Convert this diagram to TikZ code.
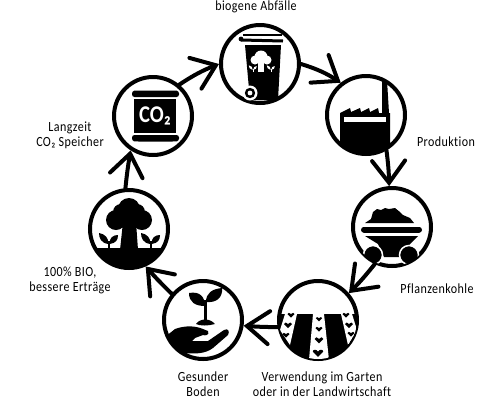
\documentclass[tikz,border=0pt]{standalone}
\usepackage{fontspec}
\setmainfont{Carlito}[LetterSpace=3,Ligatures=NoCommon,FakeStretch=0.86]
\usetikzlibrary{arrows.meta}

\newcommand{\sproutmark}[4]{% x, y, scale, colour
  \begin{scope}[shift={(#1,#2)},scale=#3]
    \draw[#4, line width=1.4pt*#3] (0,0) -- (0,-8);
    \fill[#4] (-0.8,-5) .. controls (-8,-6) and (-10,-11) .. (-10,-16) .. controls (-4,-15) and (0,-11) .. cycle;
    \fill[#4] (0.8,-5) .. controls (7,-6) and (9,-9) .. (9,-14) .. controls (4,-14) and (0,-11) .. cycle;
  \end{scope}}
\newcommand{\seedmark}[3]{% x, y, scale
  \fill[black, shift={(#1,#2)}, scale=#3] (0,3) -- (-4,-1) .. controls (-4,-3) and (-1,-3) .. (0,-1) .. controls (1,-3) and (4,-3) .. (4,-1) -- cycle;}

\begin{document}
\begin{tikzpicture}[x=1pt,y=-1pt,
  station/.style={draw, circle, line width=4pt, minimum size=78pt, inner sep=0pt},
  tag/.style={align=center, font=\fontsize{14}{15}\selectfont},
  flow/.style={-{Straight Barb[length=22pt,width=33pt,line cap=round]}, line width=4pt, line cap=round}
]
\useasboundingbox (0,0) rectangle (500,400);

\node[station] (bin) at (260,64) {};
\node[station] (factory) at (366,115) {};
\node[station] (cart) at (392,227) {};
\node[station] (field) at (318,320) {};
\node[station] (hand) at (203,320) {};
\node[station] (tree) at (129,229) {};
\node[station] (store) at (153,116) {};

\node[tag] (lblbin) at (256,7) {biogene Abfälle};
\node[tag] (lblfactory) at (446,142) {Produktion};
\node[tag] (lblcart) at (437,289) {Pflanzenkohle};
\node[tag] (lblfield) at (322,384) {Verwendung im Garten\\oder in der Landwirtschaft};
\node[tag] (lblhand) at (203,384) {Gesunder\\Boden};
\node[tag] (lbltree) at (70,280) {100\% BIO,\\bessere Erträge};
\node[tag] (lblstore) at (70,135) {Langzeit\\CO₂ Speicher};

\draw[flow] (store.50) to[bend left=6] (bin.180);
\draw[flow] (bin.0) to[bend left=8] (factory.128);
\draw[flow] (factory.-60) to[bend left=3] (cart.94);
\draw[flow] (cart.-115) to[bend left=3] (field.41);
\draw[flow] (field.190) to[bend left=2] (hand.-8);
\draw[flow] (hand.140) to[bend left=2] (tree.-66);
\draw[flow] (tree.95) to[bend left=2] (store.-123);

% waste bin
\begin{scope}
  \clip (260,64) circle (39);
  \fill (245,45) -- (281,45) -- (278,100) -- (250,100) -- cycle;
  \draw[line width=2.4pt] (243,35) -- (282,35);
  \draw[line width=3pt] (241,40) -- (283,41);
  \fill (241,39) circle (2.4);
  \fill[white] (250,93) circle (7.5);
  \fill (250,93) circle (5.2);
  \fill[white] (250,93) circle (2.4);
  \fill[white] (261,57) circle (6.5) (255,60) circle (4.5) (267,60) circle (4.5);
  \fill[white] (258,60) rectangle (264,72);
  \sproutmark{253}{72}{0.42}{white}
  \sproutmark{271}{72}{0.42}{white}
\end{scope}

% factory
\begin{scope}
  \clip (366,115) circle (39);
  \fill (340,113) -- (350,108) -- (351,112) -- (360,108) -- (361,112) -- (369,108) -- (370,112) -- (378,108) -- (379,113)
    -- (382,113) -- (382,80) -- (387,80) -- (389,113) -- (390,113) -- (390,160) -- (340,160) -- cycle;
  \fill[white] (344,117) rectangle (386,122);
\end{scope}

% coal cart
\begin{scope}
  \clip (392,227) circle (39);
  \fill (365,223) -- (371,219) -- (373,212) -- (377,209) -- (381,210) -- (385,208) -- (389,209) -- (395,208) -- (400,212) -- (403,215) -- (410,218) -- (414,223) -- cycle;
  \draw[line width=6pt, line cap=round] (364,229.5) -- (419,229.5);
  \fill (365,236) -- (418,236) -- (410,244) -- (403,257) -- (384,257) -- (378,244) -- cycle;
  \fill[draw=white, line width=1.5pt] (373,255) circle (9.5) (409,255) circle (9.5);
\end{scope}

% field rows
\begin{scope}
  \clip (318,320) circle (39);
  \fill (270,314) rectangle (370,370);
  \fill[white] (313,314) -- (324,314) -- (329,360) -- (309,360) -- cycle;
  \fill[white] (285,314) -- (297,314) -- (290,345) -- (280,330) -- cycle;
  \fill[white] (341,314) -- (352,314) -- (357,330) -- (348,345) -- cycle;
  \foreach \sx/\sy/\ss in {319/319/0.8, 319/329/0.9, 319/340/1.1, 318/353/1.3,
    291/315/0.9, 288/325/1, 286/335/0.9, 346/315/0.9, 349/325/1, 351/334/0.9}
    {\seedmark{\sx}{\sy}{\ss}}
\end{scope}

% hand with seedling
\begin{scope}
  \clip (203,320) circle (39);
  \draw[line width=3pt] (205,300) -- (205,325);
  \fill (189,293) .. controls (200,291) and (205,297) .. (205,306) .. controls (195,306) and (189,302) .. cycle;
  \fill (222,288) .. controls (212,289) and (206,293) .. (206,302) .. controls (216,303) and (223,298) .. cycle;
  \fill (196,324) .. controls (200,318) and (210,318) .. (215,324) .. controls (208,326) and (200,326) .. cycle;
  \fill (160,341) -- (175,329) .. controls (186,325) and (196,326) .. (203,329) -- (208,331)
    .. controls (210,335) and (205,336) .. (203,335) -- (195,338) -- (192,341) -- (208,341) -- (224,330)
    .. controls (228,328) and (230,331) .. (228,335) -- (213,348) .. controls (205,354) and (195,354) .. (183,353) -- (180,370) -- (150,370) -- cycle;
\end{scope}

% tree
\begin{scope}
  \clip (129,229) circle (39);
  \fill (129,209) circle (11) (116,220) circle (10) (142,220) circle (10) (129,220) circle (10) (121,212) circle (8) (137,212) circle (8);
  \fill (123,222) -- (136,222) -- (138,250) -- (120,250) -- cycle;
  \fill (80,248) rectangle (180,280);
  \sproutmark{109}{249}{1}{black}
  \sproutmark{151}{249}{1}{black}
\end{scope}

% carbon store
\fill[rounded corners=2.5pt] (132,91) -- (132,97) -- (179,97) -- (179,91) -- (175,90.5) -- (136,90.5) -- cycle;
\fill (134,99) rectangle (176,133);
\fill[rounded corners=2.5pt] (132,135) -- (132,141) -- (136,141.5) -- (175,141.5) -- (179,141) -- (179,135) -- cycle;
\node[white, inner sep=0pt] (co2) at (155,116) {\fontsize{24}{24}\selectfont\bfseries\addfontfeature{LetterSpace=0}CO₂};

\end{tikzpicture}
\end{document}
